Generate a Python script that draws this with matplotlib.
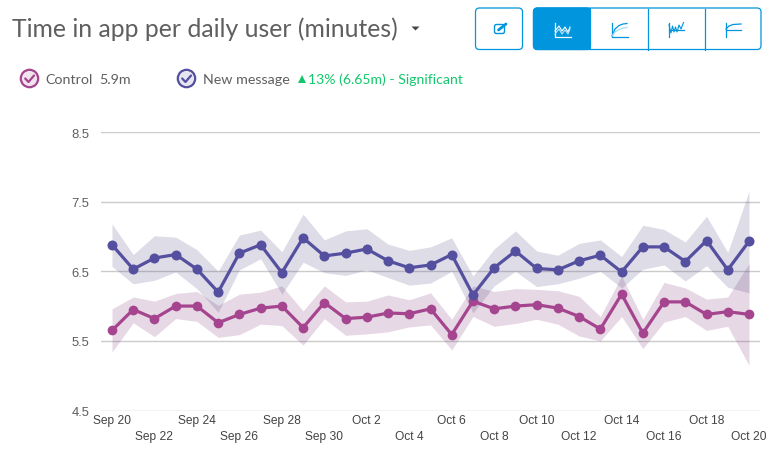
import matplotlib
matplotlib.use("Agg")
import matplotlib.pyplot as plt
from matplotlib.patches import FancyBboxPatch, Circle, Polygon, Rectangle

title = "Time in app per daily user (minutes)"
tick_labels = ["Sep 20", "Sep 22", "Sep 24", "Sep 26", "Sep 28", "Sep 30", "Oct 2", "Oct 4",
               "Oct 6", "Oct 8", "Oct 10", "Oct 12", "Oct 14", "Oct 16", "Oct 18", "Oct 20"]
y_ticks = [4.5, 5.5, 6.5, 7.5, 8.5]
days = list(range(31))

new_message = [6.88, 6.53, 6.69, 6.74, 6.53, 6.20, 6.76, 6.88, 6.48, 6.98, 6.72, 6.76, 6.82, 6.65, 6.55,
               6.59, 6.74, 6.16, 6.55, 6.79, 6.54, 6.52, 6.65, 6.73, 6.49, 6.85, 6.85, 6.64, 6.94, 6.52, 6.93]
new_upper = [7.18, 6.74, 7.01, 6.99, 6.81, 6.50, 7.02, 7.09, 6.78, 7.32, 6.95, 7.08, 7.11, 6.89, 6.80,
             6.85, 6.98, 6.43, 6.82, 7.08, 6.79, 6.73, 6.90, 6.95, 6.71, 7.16, 7.10, 6.92, 7.29, 6.77, 7.65]
new_lower = [6.57, 6.32, 6.37, 6.49, 6.25, 5.91, 6.52, 6.68, 6.17, 6.63, 6.48, 6.44, 6.52, 6.41, 6.30,
             6.33, 6.50, 5.90, 6.29, 6.50, 6.28, 6.32, 6.40, 6.50, 6.26, 6.53, 6.59, 6.36, 6.58, 6.27, 6.19]
control = [5.65, 5.95, 5.82, 6.00, 6.00, 5.76, 5.88, 5.97, 6.00, 5.69, 6.05, 5.82, 5.84, 5.90, 5.89,
           5.96, 5.59, 6.07, 5.96, 6.00, 6.02, 5.97, 5.85, 5.67, 6.17, 5.61, 6.06, 6.06, 5.88, 5.92, 5.88]
control_upper = [5.96, 6.13, 6.07, 6.18, 6.21, 6.01, 6.17, 6.20, 6.29, 5.93, 6.29, 6.06, 6.07, 6.16, 6.09,
                 6.19, 5.81, 6.29, 6.21, 6.25, 6.24, 6.22, 6.14, 5.85, 6.43, 5.81, 6.34, 6.26, 6.10, 6.13, 6.61]
control_lower = [5.34, 5.76, 5.56, 5.82, 5.78, 5.55, 5.59, 5.74, 5.72, 5.44, 5.82, 5.58, 5.60, 5.63, 5.70,
                 5.73, 5.37, 5.85, 5.71, 5.75, 5.81, 5.74, 5.57, 5.50, 5.85, 5.39, 5.77, 5.85, 5.65, 5.71, 5.15]

W, H = 781, 460
BLUE, PINK, ACCENT = "#544F9E", "#A5458F", "#0095DD"
TXT, GREEN = "#5F5F5F", "#12C86B"
SANS = ["Liberation Sans", "DejaVu Sans"]
UI = ["Lato", "DejaVu Sans"]
px = 0.72  # pixels to points at dpi 100

fig = plt.figure(figsize=(W / 100, H / 100), dpi=100)
ax = fig.add_axes([101 / W, 1 - 411.5 / H, 659 / W, 278.5 / H])
ax.set_xlim(-0.518, 30.518)
ax.set_ylim(4.5, 8.5)
for s in ax.spines.values():
    s.set_visible(False)
ax.set_yticks(y_ticks, [f"{v:.1f}" for v in y_ticks], family=SANS, fontsize=13 * px, color=TXT)
ax.set_xticks(days[::2], tick_labels, family=SANS, fontsize=12 * px, color="#444444")
ax.tick_params(axis="both", length=0)
ax.tick_params(axis="y", pad=8.5)
ax.tick_params(axis="x", pad=2.5)
for i, t in enumerate(ax.xaxis.get_major_ticks()):
    if i % 2:
        t.set_pad(14)
ax.grid(axis="y", color="#CBCBCB", lw=1.0)
ax.set_axisbelow(True)
ax.patch.set_alpha(0)

ax.fill_between(days, control_lower, control_upper, color=(130/255, 60/255, 120/255), alpha=0.2, lw=0, zorder=2)
ax.fill_between(days, new_lower, new_upper, color=(85/255, 80/255, 135/255), alpha=0.2, lw=0, zorder=2)
ax.plot(days, control, color=PINK, lw=2.3, marker="o", ms=7.0, mew=0, zorder=3)
ax.plot(days, new_message, color=BLUE, lw=2.3, marker="o", ms=7.2, mew=0, zorder=4)

# page chrome drawn in pixel coordinates
ov = fig.add_axes([0, 0, 1, 1], zorder=-1)
ov.set_xlim(0, W)
ov.set_ylim(H, 0)
ov.axis("off")

ov.text(12, 29, title, family=UI, fontsize=24.7 * px, color=TXT, va="center", ha="left")
ov.add_patch(Polygon([(411.5, 27.5), (419.5, 27.5), (415.5, 31.5)], color="#444444", lw=0))

for cx, c, fill in [(29.5, PINK, "#F1E4EE"), (186.5, BLUE, "#E6E5F1")]:
    ov.add_patch(Circle((cx, 79.5), 8.7, fc=fill, ec=c, lw=1.6))
    ov.plot([cx - 4.3, cx - 1, cx + 4.5], [79.5, 83, 76.5], color=c, lw=1.6, solid_capstyle="round")
ov.text(45, 79.5, "Control", family=UI, fontsize=14.3 * px, color=TXT, va="center")
ov.text(99, 79.5, "5.9m", family=UI, fontsize=14.3 * px, color=TXT, va="center")
ov.text(203, 79.5, "New message", family=UI, fontsize=14.3 * px, color=TXT, va="center")
ov.add_patch(Polygon([(298, 84), (306, 84), (302, 76)], color=GREEN, lw=0))
ov.text(307.5, 79.5, "13% (6.65m) - Significant", family=UI, fontsize=14 * px, color=GREEN, va="center")

def button(x0, x1, **kw):
    ov.add_patch(FancyBboxPatch((x0 + 4, 13), x1 - x0 - 8, 33.5,
                                boxstyle="round,pad=4,rounding_size=4", **kw))

button(475.5, 522.5, fc="white", ec=ACCENT, lw=0.9)
button(533.5, 761, fc="white", ec=ACCENT, lw=0.9)
ov.add_patch(FancyBboxPatch((537.5, 13), 49, 33.5, boxstyle="round,pad=4,rounding_size=4", fc=ACCENT, ec=ACCENT, lw=0.9))
ov.add_patch(Rectangle((578, 9), 13, 42, fc=ACCENT, lw=0))
for xd in (647.5, 704.5):
    ov.plot([xd, xd], [9.5, 50.5], color=ACCENT, lw=0.9)

# edit icon
ov.add_patch(FancyBboxPatch((495, 26), 9, 8, boxstyle="round,pad=0.5,rounding_size=2", fc="none", ec=ACCENT, lw=1))
ov.plot([498.5, 506], [31, 25], color=ACCENT, lw=2, solid_capstyle="round")

def axes_icon(x, c):
    ov.plot([x, x, x + 16], [24, 37.5, 37.5], color=c, lw=0.9)

# icon 1: raw lines
axes_icon(554.5, "white")
ov.plot([555, 559, 562, 565, 568, 570], [32, 27, 32, 28, 33, 28], color="white", lw=0.8)
ov.plot([555, 559, 562, 565, 568, 570], [35, 30, 35, 31, 35, 30], color="#BFE4F6", lw=0.8)
# icon 2: cumulative curve
axes_icon(611.5, ACCENT)
ov.plot([612, 615, 619, 623, 627], [37, 30, 26.5, 25, 24.5], color=ACCENT, lw=0.9)
ov.plot([612, 615, 619, 623, 627], [37, 33, 30.5, 29, 28.5], color="#A9D9F2", lw=0.9)
# icon 3: noisy difference
ov.plot([668.5, 668.5], [24, 38], color=ACCENT, lw=0.9)
ov.plot([668.5, 684], [31, 31], color=ACCENT, lw=0.9)
ov.plot([669, 671, 672.5, 674, 675.5, 677, 679, 681, 683.5],
        [26, 34, 27, 33, 28, 33, 26, 30, 23.5], color=ACCENT, lw=0.8)
# icon 4: flat cumulative difference
ov.plot([725.5, 725.5], [24, 38], color=ACCENT, lw=0.9)
ov.plot([725.5, 741], [30.5, 30.5], color=ACCENT, lw=0.9)
ov.plot([726, 729, 733, 741], [30, 27, 25.5, 25], color=ACCENT, lw=0.9)

fig.savefig("out.png", dpi=100)
